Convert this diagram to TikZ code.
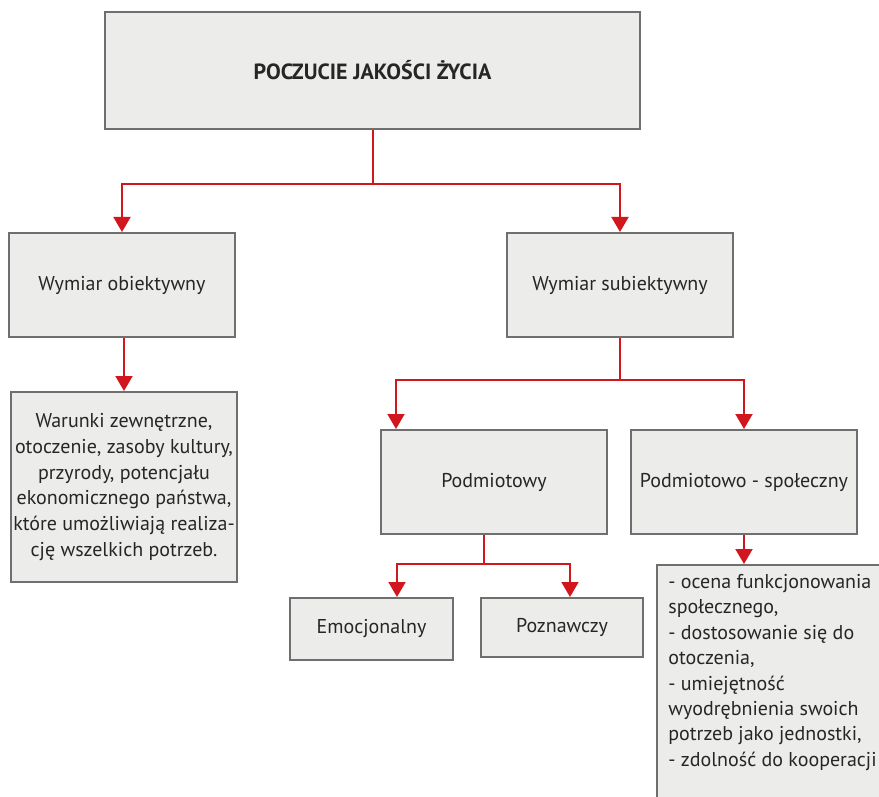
\documentclass[tikz,border=0pt]{standalone}
\usepackage{fontspec}
\setmainfont{PT Sans}
\usetikzlibrary{arrows.meta}
\definecolor{boxfill}{HTML}{ECECEB}
\definecolor{boxline}{HTML}{6F6F6F}
\definecolor{conred}{HTML}{D2161E}
\begin{document}
\begin{tikzpicture}[x=0.5pt,y=-0.5pt,
  box/.style={draw=boxline,fill=boxfill,line width=1pt,inner sep=0pt,font=\fontsize{10}{12.9}\selectfont,text=black!85},
  conn/.style={draw=conred,line width=1pt,-{Triangle[width=8.5pt,length=7.5pt]}}]
\useasboundingbox (0,0) rectangle (879,797);
\clip (0,0) rectangle (879,797);
\node[box,minimum width=267.5pt,minimum height=58.5pt,font=\fontsize{11}{13}\selectfont\bfseries] (top) at (372.5,70.5) {POCZUCIE JAKOŚCI ŻYCIA};
\node[box,minimum width=113pt,minimum height=52pt] (wob) at (122,285) {Wymiar obiektywny};
\node[box,minimum width=113pt,minimum height=95pt,align=center] (war) at (124,487) {Warunki zewnętrzne,\\otoczenie, zasoby kultury,\\przyrody, potencjału\\ekonomicznego państwa,\\które umożliwiają realiza-\\cję wszelkich potrzeb.};
\node[box,minimum width=113pt,minimum height=52pt] (wsub) at (620,285) {Wymiar subiektywny};
\node[box,minimum width=113pt,minimum height=52pt] (pod) at (494,482) {Podmiotowy};
\node[box,minimum width=113pt,minimum height=52pt] (pods) at (744,482) {Podmiotowo - społeczny};
\node[box,minimum width=81.5pt,minimum height=31pt] (emo) at (371.5,629) {Emocjonalny};
\node[box,minimum width=81pt,minimum height=29.5pt] (poz) at (562,627.5) {Poznawczy};
\node[box,minimum width=120pt,minimum height=130pt,anchor=north west] (list) at (656,564) {};
\node[anchor=north west,align=left,inner sep=0pt,font=\fontsize{10}{12.7}\selectfont,text=black!85] (listtxt) at (668,574) {- ocena funkcjonowania\\społecznego,\\- dostosowanie się do\\otoczenia,\\- umiejętność\\wyodrębnienia swoich\\potrzeb jako jednostki,\\- zdolność do kooperacji};
\coordinate (j1) at (373,184);
\draw[conn] (top.south -| j1) -- (j1) -| (wob.north);
\draw[conn] (j1) -| (wsub.north);
\draw[conn] (war.north |- wob.south) -- (war.north);
\coordinate (j2) at (620,380);
\draw[conn] (wsub.south) -- (j2) -| ([xshift=-49pt]pod.north);
\draw[conn] (j2) -| (pods.north);
\coordinate (j3) at (484,564);
\draw[conn] (pod.south -| j3) -- (j3) -| ([xshift=12.75pt]emo.north);
\draw[conn] (j3) -| ([xshift=4pt]poz.north);
\draw[conn] (pods.south) -- (list.north -| pods.south);
\end{tikzpicture}
\end{document}
